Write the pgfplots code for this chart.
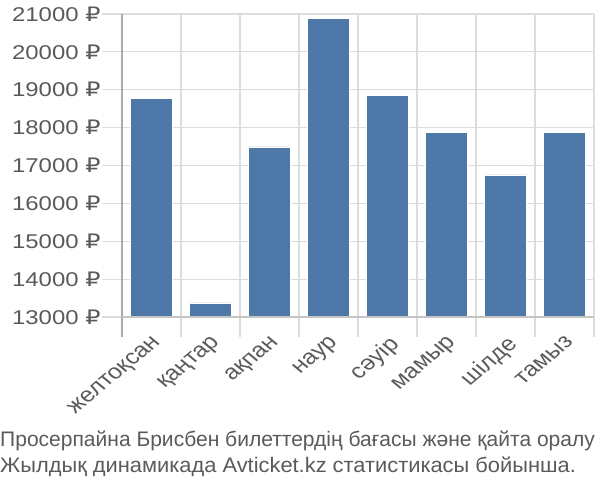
\documentclass[border=0pt]{standalone}
\usepackage{pgfplots}
\pgfplotsset{compat=1.18}
\usepackage{fontspec}
\setmainfont{Liberation Sans}
\newfontfamily\tickfont{Liberation Sans}[FakeStretch=1.2]
\newfontfamily\rubfont{DejaVu Sans}[FakeStretch=1.2]
\newfontfamily\capfontB{Liberation Sans}[FakeStretch=1.04]
\newcommand{\R}{{\rubfont ₽}}
\definecolor{barblue}{RGB}{77,120,167}
\definecolor{txt}{RGB}{90,90,90}
\definecolor{gridc}{RGB}{221,221,221}
\definecolor{axc}{RGB}{170,170,170}
\begin{document}
\begin{tikzpicture}
\path[use as bounding box] (0,0) rectangle (600bp,500bp);
\begin{axis}[
  at={(122bp,183bp)}, anchor=south west,
  scale only axis, width=472bp, height=303bp,
  xmin=-0.5, xmax=7.5, ymin=13000, ymax=21000,
  scaled y ticks=false,
  ybar, bar width=42bp, bar shift=0pt,
  xtick={0,...,7},
  xticklabels={желтоқсан,қаңтар,ақпан,наур,сәуір,мамыр,шілде,тамыз},
  minor xtick={-0.5,0.5,...,7.5},
  xminorgrids, ymajorgrids,
  major x tick style={draw=none},
  minor tick length=20bp,
  minor x tick style={draw=gridc, line width=1.2pt},
  ytick={13000,14000,...,21000},
  yticklabels={13000 \R,14000 \R,15000 \R,16000 \R,17000 \R,18000 \R,19000 \R,20000 \R,21000 \R},
  major y tick style={draw=gridc, line width=1.2pt},
  major tick length=20bp,
  ytick pos=left, xtick pos=bottom,
  tick align=outside,
  grid style={draw=gridc, line width=1.2pt},
  axis line style={draw=none},
  yticklabel style={font=\tickfont\fontsize{20}{24}\selectfont, text=txt, xshift=2bp},
  xticklabel style={font=\fontsize{21}{24}\selectfont, text=txt, xscale=1.2, rotate=45, anchor=north east, xshift=5bp, yshift=5bp},
  clip=false,
]
\addplot[fill=barblue, draw=white, line width=0.6pt] coordinates {
(0,18780) (1,13370) (2,17490) (3,20890) (4,18860) (5,17880) (6,16750) (7,17880)};
\draw[axc, line width=1.4pt] ([yshift=-20bp]axis cs:-0.5,13000) -- (axis cs:-0.5,21000);
\draw[axc!70, line width=1.4pt] (axis cs:-0.5,13000) -- (axis cs:7.5,13000);
\end{axis}
\node[anchor=base west, text=txt, font=\fontsize{21.1}{24}\selectfont, inner sep=0] at (0bp,53bp) {Просерпайна Брисбен билеттердің бағасы және қайта оралу};
\node[anchor=base west, text=txt, font=\capfontB\fontsize{21.1}{24}\selectfont, inner sep=0] at (0bp,28bp) {Жылдық динамикада Avticket.kz статистикасы бойынша.};
\end{tikzpicture}
\end{document}
